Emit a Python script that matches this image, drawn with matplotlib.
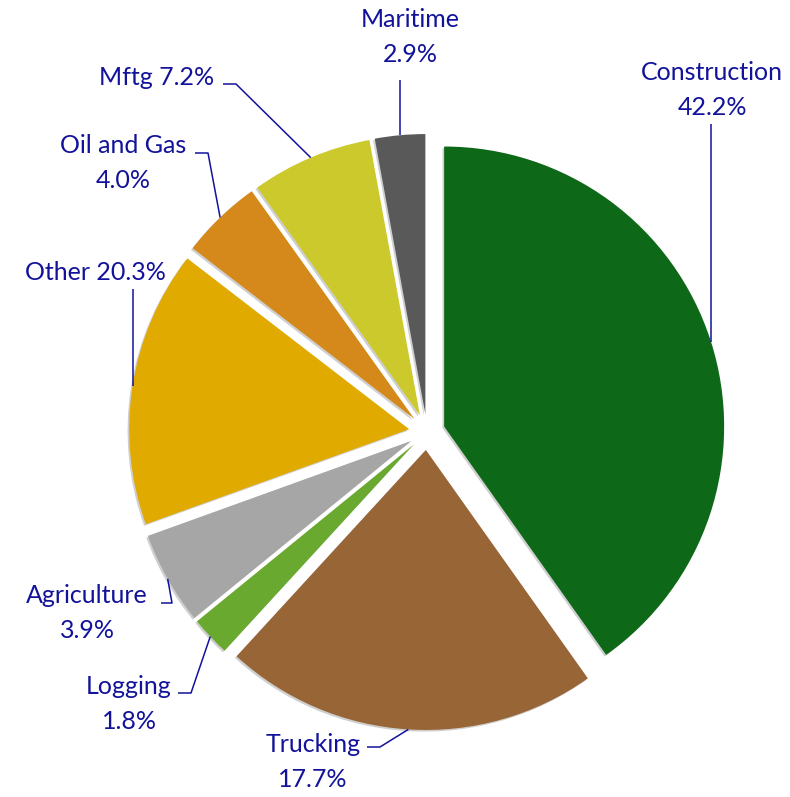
import matplotlib.pyplot as plt
import numpy as np

# sectors, clockwise from 12 o'clock
categories = ['Construction', 'Trucking', 'Logging', 'Agriculture',
              'Other', 'Oil and Gas', 'Mftg', 'Maritime']
# share of the circle each wedge takes in the picture (%)
shares = [40.3, 21.7, 2.3, 5.4, 16.0, 4.7, 7.0, 2.9]
# percentages printed in the labels
pct_text = ['42.2%', '17.7%', '1.8%', '3.9%', '20.3%', '4.0%', '7.2%', '2.9%']
colors = ['#0d6818', '#976536', '#6aa92f', '#a6a6a6',
          '#e0aa00', '#d5891b', '#ccc92d', '#595959']

W, H = 790, 797
navy = '#12129a'

# label layout in pixel coords (from top-left): text centre, leader elbow points
layout = {
    'Construction': dict(txt=(712, 90), two=True, path=[(None, 124)]),
    'Trucking': dict(txt=(313, 762), two=True, path=[(380, 747), (367, 747)]),
    'Logging': dict(txt=(129, 704), two=True, path=[(191, 693), (178, 693)]),
    'Agriculture': dict(txt=(87, 613), two=True, path=[(172, 603), (161, 603)]),
    'Other': dict(txt=(95, 272), two=False, path=[(None, 289)]),
    'Oil and Gas': dict(txt=(123, 163), two=True, path=[(208, 153), (195, 153)]),
    'Mftg': dict(txt=(157, 77), two=False, path=[(236, 84), (223, 84)]),
    'Maritime': dict(txt=(410, 37), two=True, path=[(None, 80)]),
}

fig = plt.figure(figsize=(7.9, 7.97), dpi=100)
ax = fig.add_axes([0, 0, 1, 1])

R = 280
wedges, _ = ax.pie(shares, colors=colors, explode=[18] * len(shares),
                   startangle=90, counterclock=False, radius=R,
                   center=(427, H - 432),
                   wedgeprops=dict(linewidth=0),
                   shadow=dict(ox=-1.2, oy=-1.2, facecolor='#b0b0b0',
                               edgecolor='none', alpha=0.6))
ax.set_xlim(0, W)
ax.set_ylim(0, H)
ax.set_aspect('auto')
ax.axis('off')

for w, cat, pct in zip(wedges, categories, pct_text):
    L = layout[cat]
    mid = np.deg2rad((w.theta1 + w.theta2) / 2)
    ax_x = w.center[0] + R * np.cos(mid)
    ax_y = w.center[1] + R * np.sin(mid)
    xs, ys = [ax_x], [ax_y]
    for px, py in L['path']:
        xs.append(ax_x if px is None else px)
        ys.append(H - py)
    ax.plot(xs, ys, color=navy, lw=1.1, solid_capstyle='butt')
    label = f'{cat}\n{pct}' if L['two'] else f'{cat} {pct}'
    ax.text(L['txt'][0], H - L['txt'][1], label, ha='center', va='center',
            color=navy, fontsize=18, family='Lato', linespacing=1.6)

fig.savefig('out.png', dpi=100)
